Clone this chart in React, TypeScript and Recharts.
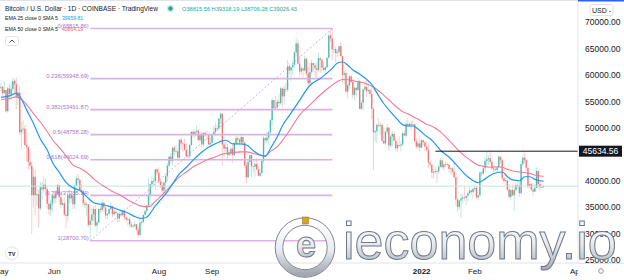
import React from "react";
import { ComposedChart, Bar, Line, XAxis, YAxis, ReferenceLine } from "recharts";

// daily BTC/USD candles, [high, low, close] in thousand USD (open = previous close)
const APR30_CLOSE = 57.7;
const may21 = [
  [58.5, 57.0, 57.8], [57.9, 56.1, 56.6], [58.9, 56.5, 57.2], [57.2, 53.0, 53.2], [57.9, 52.9, 57.5],
  [58.4, 55.2, 56.4], [58.7, 55.4, 57.4], [59.5, 56.9, 58.9], [59.3, 56.2, 58.3], [59.5, 53.5, 55.8],
  [57.0, 54.4, 56.7], [58.0, 48.7, 49.2], [51.3, 46.0, 49.7], [51.5, 48.8, 49.9], [50.6, 46.6, 46.8],
  [49.8, 43.8, 46.4], [46.6, 42.1, 43.6], [45.8, 42.3, 42.9], [43.6, 30.0, 37.3], [42.5, 35.0, 40.8],
  [42.2, 33.5, 37.3], [38.8, 35.3, 37.5], [38.3, 31.2, 34.8], [39.8, 34.4, 38.8], [39.8, 36.5, 38.4],
  [40.8, 37.8, 39.3], [40.4, 37.2, 38.5], [38.9, 34.7, 35.7], [37.9, 33.6, 34.6], [36.4, 33.4, 35.7],
  [37.5, 34.2, 37.3],
];
const jun21 = [
  [37.9, 35.7, 36.7], [38.2, 35.9, 37.6], [39.5, 37.2, 39.2], [39.3, 35.6, 36.9], [37.9, 34.8, 35.5],
  [36.5, 35.3, 35.8], [36.8, 33.4, 33.6], [34.0, 31.0, 33.4], [37.5, 32.4, 37.4], [38.4, 35.8, 36.7],
  [37.7, 35.9, 37.3], [37.5, 34.7, 35.6], [39.3, 34.8, 39.1], [41.0, 38.8, 40.5], [41.3, 39.5, 40.2],
  [40.5, 38.2, 38.3], [39.5, 37.4, 38.1], [38.2, 35.2, 35.8], [36.4, 34.8, 35.5], [36.1, 33.4, 35.6],
  [35.7, 31.3, 31.7], [33.3, 28.7, 32.5], [34.9, 31.7, 33.7], [35.2, 32.4, 34.7], [35.5, 31.3, 31.6],
  [32.7, 30.2, 32.2], [34.7, 32.0, 34.7], [35.3, 33.9, 34.5], [36.6, 34.2, 35.9], [36.0, 34.1, 35.0],
];
const jul21 = [
  [35.0, 32.7, 33.5], [33.9, 32.7, 33.8], [34.9, 33.4, 34.7], [35.9, 34.5, 35.3], [35.3, 33.2, 33.7],
  [35.0, 33.5, 34.2], [35.0, 33.8, 33.9], [33.9, 32.1, 32.9], [34.1, 32.3, 33.8], [34.2, 33.1, 33.5],
  [34.6, 33.3, 34.3], [34.6, 32.7, 33.1], [33.3, 32.3, 32.7], [33.1, 31.6, 32.8], [33.2, 31.2, 31.8],
  [32.2, 31.1, 31.4], [31.9, 31.2, 31.5], [32.4, 31.2, 31.8], [31.9, 30.5, 30.8], [31.1, 29.3, 29.8],
  [32.8, 29.5, 32.1], [32.6, 31.7, 32.3], [33.6, 32.0, 33.6], [34.5, 33.4, 34.3], [35.4, 33.9, 35.4],
  [40.5, 35.3, 37.3], [39.5, 36.4, 39.4], [40.9, 38.8, 40.0], [40.6, 39.3, 40.0], [42.3, 38.3, 42.2],
  [42.4, 41.1, 41.6],
];
const aug21 = [
  [42.6, 39.4, 39.9], [40.4, 38.7, 39.2], [39.8, 37.6, 38.2], [39.9, 37.5, 39.7], [41.4, 37.4, 40.9],
  [43.4, 39.9, 42.9], [44.7, 42.5, 44.6], [45.3, 43.3, 43.8], [46.5, 42.9, 46.3], [46.7, 44.7, 45.6],
  [46.8, 45.4, 45.6], [46.2, 43.8, 44.4], [47.9, 44.2, 47.8], [48.2, 45.9, 47.1], [47.4, 45.5, 47.0],
  [48.0, 45.7, 45.9], [47.1, 44.4, 44.7], [46.0, 44.2, 44.7], [47.0, 43.9, 46.8], [49.4, 46.7, 49.3],
  [49.8, 48.3, 48.9], [49.5, 48.1, 49.3], [50.5, 49.0, 49.5], [49.9, 47.6, 47.7], [49.2, 47.2, 48.9],
  [49.4, 46.4, 46.9], [49.2, 46.4, 49.1], [49.3, 48.4, 48.9], [49.6, 47.8, 48.8], [48.9, 46.9, 46.9],
  [48.2, 46.7, 47.2],
];
const sep21 = [
  [48.9, 46.5, 48.8], [50.4, 48.6, 49.3], [51.0, 48.4, 50.0], [50.6, 49.4, 49.9], [51.9, 49.5, 51.8],
  [52.9, 50.8, 52.7], [52.9, 42.8, 46.9], [47.4, 44.4, 46.1], [47.4, 45.5, 46.4], [47.0, 44.2, 44.9],
  [45.9, 44.8, 45.2], [46.5, 44.8, 46.1], [46.9, 43.4, 44.9], [47.3, 44.7, 47.1], [48.5, 46.8, 48.1],
  [48.5, 47.1, 47.8], [48.1, 46.8, 47.3], [48.8, 47.1, 48.3], [48.4, 46.9, 47.3], [47.3, 42.5, 43.0],
  [43.6, 39.6, 40.7], [44.0, 40.6, 43.6], [44.9, 43.1, 44.9], [45.2, 40.7, 42.8], [42.8, 41.7, 42.7],
  [43.9, 40.8, 43.2], [44.4, 42.1, 42.2], [42.8, 40.9, 41.0], [42.6, 40.8, 41.5], [44.1, 41.4, 43.8],
];
const oct21 = [
  [48.5, 43.3, 48.1], [48.4, 47.1, 47.7], [49.3, 47.1, 48.2], [49.5, 46.9, 49.2], [51.9, 49.0, 51.5],
  [55.8, 50.4, 55.3], [55.3, 53.4, 53.8], [56.1, 53.6, 53.9], [55.5, 53.7, 55.0], [56.5, 54.1, 54.7],
  [57.8, 54.4, 57.5], [57.7, 54.0, 56.0], [58.0, 54.4, 57.4], [58.5, 56.8, 57.3], [62.9, 56.9, 61.7],
  [62.4, 60.2, 60.9], [61.7, 58.9, 61.5], [62.7, 60.0, 62.0], [64.5, 61.3, 64.3], [67.0, 63.6, 66.0],
  [66.6, 62.0, 62.2], [63.7, 60.0, 60.7], [61.7, 60.2, 61.3], [61.5, 59.6, 60.9], [63.7, 60.7, 63.1],
  [63.3, 59.9, 60.3], [61.5, 58.1, 58.5], [62.4, 57.9, 60.6], [62.9, 60.2, 62.3], [62.3, 60.7, 61.9],
  [62.4, 59.6, 61.3],
];
const nov21 = [
  [62.4, 59.5, 61.0], [64.3, 60.7, 63.2], [63.5, 60.4, 62.9], [63.1, 60.7, 61.4], [62.6, 60.7, 61.0],
  [61.6, 60.1, 61.5], [63.3, 61.3, 63.3], [67.8, 63.1, 67.5], [68.5, 66.3, 66.9], [68.8, 62.8, 64.9],
  [65.6, 64.1, 64.9], [65.4, 62.3, 64.2], [65.0, 63.4, 64.4], [65.5, 63.6, 65.5], [66.3, 63.5, 63.6],
  [63.6, 58.6, 60.1], [60.8, 58.4, 60.4], [60.9, 56.5, 56.9], [58.4, 55.6, 58.1], [59.9, 57.4, 59.8],
  [60.0, 58.5, 58.7], [59.3, 55.6, 56.3], [57.9, 55.3, 57.6], [57.8, 55.9, 57.2], [59.4, 57.0, 58.9],
  [59.2, 53.6, 53.6], [55.3, 53.7, 54.8], [57.5, 53.3, 57.3], [58.9, 56.8, 57.8], [59.2, 55.9, 57.0],
];
const dec21 = [
  [59.0, 56.5, 57.2], [57.4, 55.9, 56.5], [57.6, 51.7, 53.6], [53.9, 42.0, 49.2], [49.7, 47.4, 49.4],
  [50.9, 47.2, 50.6], [51.9, 50.1, 50.5], [51.2, 48.6, 50.6], [50.8, 47.3, 47.6], [50.1, 46.9, 47.1],
  [49.5, 46.8, 49.3], [50.7, 48.7, 50.1], [50.2, 45.7, 46.7], [48.7, 46.3, 48.4], [49.5, 46.5, 48.9],
  [49.4, 47.6, 47.6], [48.0, 45.5, 46.2], [47.4, 45.6, 46.8], [48.4, 46.4, 46.7], [47.5, 45.6, 46.9],
  [49.3, 46.6, 49.0], [49.6, 48.5, 48.6], [51.4, 48.1, 50.8], [51.9, 50.4, 50.4], [51.2, 50.2, 50.8],
  [51.3, 49.5, 50.6], [52.1, 50.5, 50.7], [50.7, 47.3, 47.5], [48.1, 46.1, 46.5], [47.9, 46.0, 47.1],
  [48.6, 45.7, 46.3],
];
const jan22 = [
  [47.9, 46.2, 47.7], [47.9, 46.7, 47.3], [47.6, 45.7, 46.5], [47.5, 45.5, 45.9], [47.1, 42.5, 43.5],
  [43.8, 42.5, 43.1], [43.1, 40.6, 41.6], [42.3, 40.5, 41.7], [42.8, 41.2, 41.9], [42.2, 39.6, 41.8],
  [43.0, 41.3, 42.7], [44.3, 42.5, 43.9], [44.4, 42.3, 42.6], [43.4, 41.9, 43.1], [43.8, 42.6, 43.2],
  [43.5, 42.7, 43.1], [43.2, 41.6, 42.3], [42.6, 41.3, 42.4], [42.6, 41.2, 41.7], [43.5, 40.6, 40.7],
  [41.1, 35.5, 36.5], [36.9, 34.1, 35.1], [36.5, 34.6, 36.3], [37.6, 33.0, 36.7], [37.5, 35.7, 36.9],
  [38.9, 36.3, 36.8], [37.2, 35.5, 37.2], [38.0, 36.2, 37.7], [38.7, 37.4, 38.2], [38.4, 37.4, 37.9],
  [38.7, 36.6, 38.5],
];
const feb22 = [
  [39.3, 38.0, 38.7], [38.9, 36.6, 36.9], [37.4, 36.3, 37.3], [41.8, 37.0, 41.6], [41.9, 40.9, 41.4],
  [42.7, 41.1, 42.4], [44.5, 41.6, 43.8], [45.5, 42.7, 44.1], [44.8, 43.1, 44.3], [45.8, 43.2, 43.6],
  [43.9, 42.0, 42.4], [43.0, 41.7, 42.2], [42.8, 41.9, 42.1], [42.8, 41.6, 42.6], [44.8, 42.4, 44.6],
  [44.6, 43.3, 43.9], [44.2, 40.1, 40.5], [40.9, 39.5, 40.0], [40.5, 39.7, 40.1], [40.2, 38.0, 38.4],
  [39.5, 36.8, 37.0], [38.4, 36.4, 38.3], [39.3, 37.1, 37.3], [39.0, 34.3, 38.3], [39.7, 38.0, 39.2],
  [40.1, 38.6, 39.1], [39.9, 37.0, 37.7], [43.8, 37.5, 43.2],
];
const mar22 = [
  [44.9, 42.8, 44.4], [45.4, 43.4, 44.0], [44.1, 41.9, 42.5], [42.5, 38.6, 39.1], [39.6, 38.6, 39.4],
  [39.6, 38.1, 38.4], [39.5, 37.2, 38.0], [39.4, 37.9, 38.7], [42.6, 38.7, 41.9], [42.0, 38.6, 39.4],
  [40.2, 38.2, 38.8], [39.5, 38.7, 38.816], [39.318, 38.706, 39.026],
];

// EMA lines, [day, value in thousand USD]
const ema25 = [
  [0, 55.8], [5, 56.1], [9, 56.6], [12, 55.4], [15, 53.4], [19, 50.8], [23, 47.9], [27, 45.8],
  [30, 43.5], [34, 41.6], [38, 39.7], [42, 38.7], [46, 38.2], [50, 37.0], [54, 35.9], [58, 35.6],
  [62, 35.3], [65, 35.0], [69, 34.5], [73, 34.1], [77, 33.4], [81, 32.95], [84, 33.05], [87, 33.9],
  [89, 34.9], [93, 36.5], [97, 38.0], [100, 39.5], [104, 41.4], [108, 42.6], [112, 44.0], [116, 45.2],
  [120, 46.2], [124, 46.9], [128, 47.5], [131, 47.7], [135, 47.0], [139, 47.0], [143, 46.8], [147, 45.7],
  [151, 44.9], [154, 44.7], [157, 46.2], [161, 48.4], [164, 50.5], [168, 52.4], [174, 55.3], [180, 58.1],
  [186, 59.4], [192, 61.0], [196, 62.3], [199, 62.5], [202, 61.9], [205, 61.0], [209, 60.2], [213, 59.2],
  [216, 58.2], [219, 56.6], [223, 54.6], [227, 53.0], [231, 51.6], [234, 50.6], [237, 50.4], [240, 50.4],
  [244, 49.5], [248, 48.4], [250, 48.0], [256, 45.8], [262, 44.2], [267, 42.4], [273, 40.5], [278, 39.7],
  [281, 40.2], [285, 41.1], [289, 41.6], [292, 41.7], [295, 40.8], [298, 40.2], [302, 40.05], [305, 40.8],
  [308, 40.8], [311, 40.3], [314, 40.05], [316, 39.96],
];
const ema50 = [
  [0, 55.4], [5, 55.6], [9, 55.9], [12, 55.4], [15, 54.4], [19, 52.7], [23, 51.1], [27, 49.3],
  [30, 47.8], [34, 46.3], [38, 44.7], [42, 43.0], [46, 42.4], [50, 41.6], [54, 40.4], [58, 39.4],
  [62, 38.6], [65, 38.0], [69, 37.4], [73, 36.6], [77, 35.9], [81, 35.3], [84, 35.15], [87, 35.25],
  [89, 35.9], [93, 37.1], [97, 38.4], [100, 39.5], [104, 40.8], [108, 41.7], [112, 42.7], [116, 43.35],
  [120, 44.0], [124, 44.45], [128, 44.95], [131, 45.2], [135, 45.35], [139, 45.5], [143, 45.5], [147, 45.2],
  [151, 44.9], [154, 44.7], [157, 45.6], [161, 46.5], [164, 47.7], [168, 49.5], [174, 52.5], [180, 54.4],
  [186, 56.3], [192, 57.9], [196, 58.8], [199, 59.2], [202, 59.15], [205, 58.95], [209, 58.7], [213, 58.35],
  [216, 57.9], [219, 57.3], [223, 56.2], [227, 55.0], [231, 53.8], [234, 53.1], [237, 52.7], [240, 52.15],
  [244, 51.5], [248, 50.7], [250, 50.5], [256, 49.3], [262, 47.3], [267, 45.6], [273, 44.0], [278, 43.0],
  [281, 42.8], [285, 42.6], [289, 42.7], [292, 42.6], [295, 42.2], [298, 41.9], [302, 41.7], [305, 41.6],
  [308, 41.4], [311, 41.1], [314, 40.95], [316, 40.86],
];

const timeTicks = [0, 31, 92, 123, 245, 276, 335];
const timeLabels = ["May", "Jun", "Aug", "Sep", "2022", "Feb", "Apr"];
const priceTicks = [25000, 30000, 35000, 40000, 45634.56, 50000, 55000, 60000, 65000, 70000];
const RESISTANCE = 45634.56;
const LAST_PRICE = 39026.43;
const fibFrom = [52, 28700.7];
const fibTo = [193, 68815.86];
const fibLevels = ["0", "0.236", "0.382", "0.5", "0.618", "0.786", "1"];
const fibPrices = [68815.86, 59348.69, 53491.87, 48758.28, 44024.69, 37285.34, 28700.7];

const UP = "#4cb9ac";
const DOWN = "#f37474";
const FONT = "'Liberation Sans', Arial, sans-serif";

const candles = [may21, jun21, jul21, aug21, sep21, oct21, nov21, dec21, jan22, feb22, mar22].flat();
const rows = candles.map(([h, l, c], i) => {
  const o = i === 0 ? APR30_CLOSE : candles[i - 1][2];
  const lo = Math.min(l, o, c) * 1000;
  const hi = Math.max(h, o, c) * 1000;
  return { day: i, open: o * 1000, close: c * 1000, high: hi, low: lo, range: [lo, hi] } as any;
});
ema25.forEach(([d, v]) => (rows[d].ema25 = v * 1000));
ema50.forEach(([d, v]) => (rows[d].ema50 = v * 1000));

const Candle = (props: any) => {
  const { x, y, width, height } = props;
  const p = props.payload || props;
  const up = p.close >= p.open;
  const color = up ? UP : DOWN;
  const k = height / (p.high - p.low || 1);
  const cx = x + width / 2;
  const top = y + (p.high - Math.max(p.open, p.close)) * k;
  const bh = Math.max(Math.abs(p.open - p.close) * k, 0.8);
  const bw = 1.35;
  return (
    <g>
      <line x1={cx} x2={cx} y1={y} y2={y + height} stroke={color} strokeOpacity={0.45} strokeWidth={0.8} />
      <rect x={cx - bw / 2} y={top} width={bw} height={bh} fill={color} />
    </g>
  );
};

const TimeTick = ({ x, payload }: any) => {
  const label = timeLabels[timeTicks.indexOf(payload.value)];
  return (
    <svg x={0} y={263} width={578} height={17} overflow="hidden">
      <text
        x={x}
        y={8.2}
        textAnchor="middle"
        dominantBaseline="central"
        fontSize={8}
        fontFamily={FONT}
        fontWeight={label === "2022" ? 700 : 400}
        fill="#131722"
      >
        {label}
      </text>
    </svg>
  );
};

const PriceTick = ({ y, payload }: any) => {
  const v = payload.value;
  if (v === RESISTANCE) {
    return (
      <g>
        <rect x={579} y={y - 5.5} width={43} height={11} fill="#131722" />
        <text x={600.5} y={y} textAnchor="middle" dominantBaseline="central" fontSize={8.5} fontFamily={FONT} fill="#fff">
          {v.toFixed(2)}
        </text>
      </g>
    );
  }
  return (
    <text x={585} y={y} dominantBaseline="central" fontSize={8.5} fontFamily={FONT} fill="#131722">
      {v.toFixed(2)}
    </text>
  );
};

const fibLabel = (text: string) => (props: any) => {
  const vb = props.viewBox || {};
  return (
    <text x={vb.x - 1.5} y={vb.y - 2.7} textAnchor="end" dominantBaseline="central" fontSize={5.8} fontFamily={FONT} fill="#ad72cc">
      {text}
    </text>
  );
};

export default function App() {
  return (
    <div style={{ position: "absolute", left: 0, top: 0, width: 624, height: 280, background: "#fff" }}>
      <ComposedChart width={624} height={280} data={rows} margin={{ top: 0, right: 0, bottom: 0, left: 0 }}>
        <XAxis
          dataKey="day"
          type="number"
          domain={[-0.582, 336.05]}
          allowDataOverflow
          ticks={timeTicks}
          interval={0}
          height={17}
          tickLine={false}
          axisLine={{ stroke: "#e0e3eb" }}
          tick={<TimeTick />}
        />
        <YAxis
          yAxisId="p"
          orientation="right"
          type="number"
          domain={[24498, 74216]}
          allowDataOverflow
          ticks={priceTicks}
          interval={0}
          width={46}
          tickLine={false}
          axisLine={{ stroke: "#e0e3eb" }}
          tick={<PriceTick />}
        />
        <ReferenceLine yAxisId="p" y={LAST_PRICE} stroke="#bfe4de" strokeWidth={1} />
        {fibPrices.map((fp, i) => (
          <ReferenceLine
            key={fibLevels[i]}
            yAxisId="p"
            segment={[{ x: fibFrom[0], y: fp }, { x: fibTo[0], y: fp }]}
            stroke="#dcb0e8"
            strokeWidth={1.6}
            label={fibLabel(`${fibLevels[i]}(${fp.toFixed(2)})`)}
          />
        ))}
        <ReferenceLine
          yAxisId="p"
          segment={[{ x: fibFrom[0], y: fibFrom[1] }, { x: fibTo[0], y: fibTo[1] }]}
          stroke="#d8a6e6"
          strokeWidth={1}
          strokeDasharray="2 2"
        />
        <Bar yAxisId="p" dataKey="range" barSize={1.4} shape={<Candle />} isAnimationActive={false} />
        <Line yAxisId="p" dataKey="ema50" type="monotone" stroke="#f27a97" strokeWidth={1.1} dot={false} activeDot={false} connectNulls isAnimationActive={false} />
        <Line yAxisId="p" dataKey="ema25" type="monotone" stroke="#2196f3" strokeWidth={1.2} dot={false} activeDot={false} connectNulls isAnimationActive={false} />
        <ReferenceLine
          yAxisId="p"
          segment={[{ x: 253, y: RESISTANCE }, { x: 336.05, y: RESISTANCE }]}
          stroke="#131722"
          strokeWidth={1}
        />
      </ComposedChart>
      <svg width={624} height={280} style={{ position: "absolute", left: 0, top: 0, pointerEvents: "none" }}>
        <defs>
          <linearGradient id="silver" x1="0" y1="0" x2="0" y2="1">
            <stop offset="0" stopColor="#ffffff" />
            <stop offset="0.55" stopColor="#e9ebef" />
            <stop offset="1" stopColor="#a3a9b4" />
          </linearGradient>
        </defs>
        <line x1={0} x2={624} y1={0.5} y2={0.5} stroke="#e0e3eb" />
        <rect x={578} y={0} width={46} height={1.5} fill="#2962ff" />
        <line x1={578} x2={624} y1={263.5} y2={263.5} stroke="#e0e3eb" />
        <rect x={590} y={4.5} width={23} height={11} rx={2} fill="#fff" stroke="#e0e3eb" />
        <text x={601.5} y={10.3} textAnchor="middle" dominantBaseline="central" fontSize={7} fontFamily={FONT} fill="#131722">
          USD -
        </text>

        <text x={5} y={8.5} dominantBaseline="central" fontSize={6.4} fontFamily={FONT} fill="#131722" textLength={153} lengthAdjust="spacingAndGlyphs">
          Bitcoin / U.S. Dollar · 1D · COINBASE · TradingView
        </text>
        <circle cx={170.5} cy={8.5} r={3.8} fill="#26a69a" fillOpacity={0.2} />
        <circle cx={170.5} cy={8.5} r={2.2} fill="#26a69a" />
        <text x={182} y={8.5} dominantBaseline="central" fontSize={6.2} fontFamily={FONT} fill="#26a69a" textLength={115} lengthAdjust="spacingAndGlyphs">
          O38815.56 H39318.19 L38706.28 C39026.43
        </text>
        <text x={5} y={18.4} dominantBaseline="central" fontSize={5.8} fontFamily={FONT} fill="#131722" textLength={53} lengthAdjust="spacingAndGlyphs">
          EMA 25 close 0 SMA 5
        </text>
        <text x={62} y={18.4} dominantBaseline="central" fontSize={5.8} fontFamily={FONT} fill="#2196f3" textLength={21} lengthAdjust="spacingAndGlyphs">
          39959.81
        </text>
        <text x={5} y={29.3} dominantBaseline="central" fontSize={5.8} fontFamily={FONT} fill="#131722" textLength={53} lengthAdjust="spacingAndGlyphs">
          EMA 50 close 0 SMA 5
        </text>
        <text x={62} y={29.3} dominantBaseline="central" fontSize={5.8} fontFamily={FONT} fill="#ec5b75" textLength={21} lengthAdjust="spacingAndGlyphs">
          40864.19
        </text>
        <rect x={5.5} y={36.5} width={13} height={9} rx={2} fill="#fff" stroke="#e0e3eb" />
        <path d="M9.5 42.5 L12 40 L14.5 42.5" fill="none" stroke="#131722" strokeWidth={0.8} />

        <circle cx={11.8} cy={253.3} r={6.5} fill="#fff" stroke="#e0e3eb" />
        <text x={11.8} y={253.5} textAnchor="middle" dominantBaseline="central" fontSize={5.5} fontWeight={700} fontFamily={FONT} fill="#131722">
          TV
        </text>
        <circle cx={601} cy={271} r={2.3} fill="none" stroke="#787b86" strokeWidth={0.8} />

        <circle cx={305} cy={247.5} r={26} fill="none" stroke="url(#silver)" strokeWidth={7} />
        <circle cx={305} cy={247.5} r={29.8} fill="none" stroke="#6f7886" strokeWidth={0.9} />
        <circle cx={305} cy={247.5} r={22.2} fill="none" stroke="#6f7886" strokeWidth={0.9} />
        <text x={306} y={257} textAnchor="middle" fontSize={36} fontWeight={700} fontFamily={FONT} fill="url(#silver)" stroke="#6f7886" strokeWidth={0.9}>
          e
        </text>
        <rect x={302.5} y={217} width={6} height={7} fill="#d9a520" stroke="#8a6d10" strokeWidth={0.5} />
        <text x={343} y={259} fontSize={52} fontFamily={FONT} fill="url(#silver)" stroke="#6f7886" strokeWidth={1}>
          ieconomy.io
        </text>
      </svg>
    </div>
  );
}
